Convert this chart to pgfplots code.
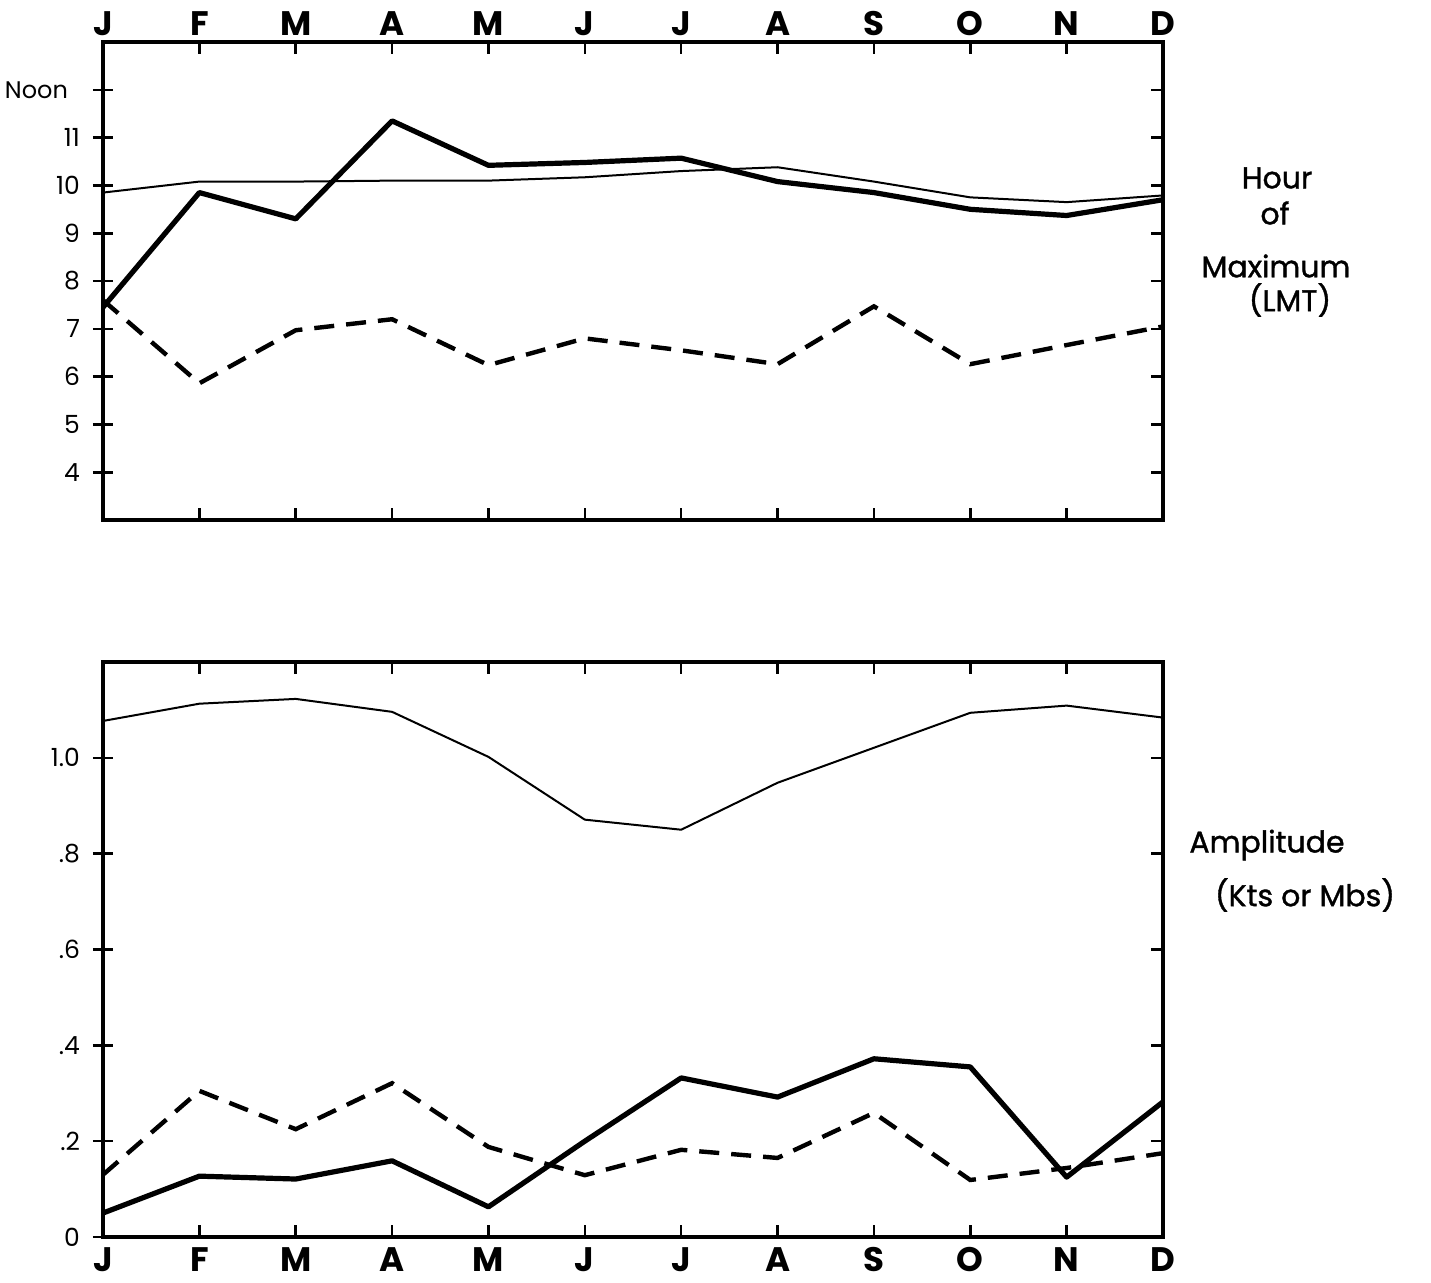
\documentclass[border=0pt]{standalone}
\usepackage{fontspec}
\setmainfont{Poppins}
\newfontfamily\medfont[FakeBold=1.2]{Poppins}
\usepackage{pgfplots}
\pgfplotsset{compat=1.18}
\pgfplotsset{
  base/.style={scale only axis, width=530pt, xmin=0, xmax=11,
    /pgf/number format/assume math mode=true},
  mainbox/.style={base, xtick={0,...,11},
    xticklabels={J,F,M,A,M,J,J,A,S,O,N,D},
    xtick pos=both, tick align=inside, ytick pos=right, yticklabels={},
    major tick length=6pt,
    axis line style={line width=1.8pt},
    every tick/.style={black, line width=1.3pt},
    xticklabel style={font=\fontsize{17}{17}\selectfont\bfseries, inner sep=0pt},
  },
  leftov/.style={base, axis x line=none, axis y line*=left,
    ytick align=center, major tick length=10pt,
    axis line style={line width=1.8pt},
    every tick/.style={black, line width=1.3pt},
    yticklabel style={font=\fontsize{12.5}{13}\selectfont, xshift=-3pt},
  },
  thinl/.style={black, line width=1pt},
  thickl/.style={black, line width=2.6pt, line join=round},
  dashl/.style={black, line width=2.2pt, dash pattern=on 10pt off 6pt},
}
\begin{document}
\begin{tikzpicture}
\useasboundingbox (-51.5pt,-381pt) rectangle (664pt,260pt);
% ---------- top panel ----------
\begin{axis}[mainbox, at={(0pt,0pt)}, anchor=south west, height=239pt,
  ymin=3, ymax=13, ytick={4,...,12}, xticklabel pos=top,
  xticklabel style={yshift=3pt}]
\addplot[thinl] coordinates {(0,9.85)(1,10.08)(2,10.08)(3,10.1)(4,10.1)(5,10.17)(6,10.3)(7,10.38)(8,10.08)(9,9.75)(10,9.65)(11,9.79)};
\addplot[thickl] coordinates {(0,7.45)(1,9.85)(2,9.3)(3,11.35)(4,10.42)(5,10.48)(6,10.57)(7,10.08)(8,9.85)(9,9.5)(10,9.37)(11,9.7)};
\addplot[dashl] coordinates {(0,7.6)(1,5.86)(2,6.97)(3,7.2)(4,6.24)(5,6.8)(6,6.55)(7,6.26)(8,7.47)(9,6.26)(10,6.66)(11,7.05)};
\end{axis}
\begin{axis}[leftov, at={(0pt,0pt)}, anchor=south west, height=239pt,
  ymin=3, ymax=13, ytick={4,...,12},
  yticklabels={4,5,6,7,8,9,10,11,{\fontsize{12}{12}\selectfont\hspace*{0pt}Noon\hspace*{6pt}}}]
\end{axis}
% ---------- bottom panel ----------
\begin{axis}[mainbox, at={(0pt,-358.5pt)}, anchor=south west, height=287.5pt,
  ymin=0, ymax=1.2, ytick={0,0.2,0.4,0.6,0.8,1.0}, xticklabel pos=bottom,
  xticklabel style={yshift=-5pt}]
\addplot[thinl] coordinates {(0,1.077)(1,1.113)(2,1.123)(3,1.096)(4,1.002)(5,0.871)(6,0.85)(7,0.948)(8,1.021)(9,1.094)(10,1.109)(11,1.084)};
\addplot[thickl] coordinates {(0,0.05)(1,0.127)(2,0.121)(3,0.159)(4,0.063)(5,0.2)(6,0.332)(7,0.292)(8,0.372)(9,0.355)(10,0.125)(11,0.282)};
\addplot[dashl] coordinates {(0,0.13)(1,0.305)(2,0.225)(3,0.321)(4,0.188)(5,0.129)(6,0.182)(7,0.165)(8,0.259)(9,0.119)(10,0.144)(11,0.175)};
\end{axis}
\begin{axis}[leftov, at={(0pt,-358.5pt)}, anchor=south west, height=287.5pt,
  ymin=0, ymax=1.2, ytick={0,0.2,0.4,0.6,0.8,1.0},
  yticklabels={0,.2,.4,.6,.8,1.0}]
\end{axis}
% ---------- side labels ----------
\begin{scope}[every node/.style={font=\fontsize{15}{15}\medfont, inner sep=0pt}]
\node at (587pt,171pt) {Hour};
\node at (586pt,153.5pt) {of};
\node at (586.5pt,127pt) {Maximum};
\node at (593.5pt,110pt) {(LMT)};
\node at (582pt,-162.5pt) {Amplitude};
\node at (601pt,-187.5pt) {(Kts or Mbs)};
\end{scope}
\end{tikzpicture}
\end{document}
